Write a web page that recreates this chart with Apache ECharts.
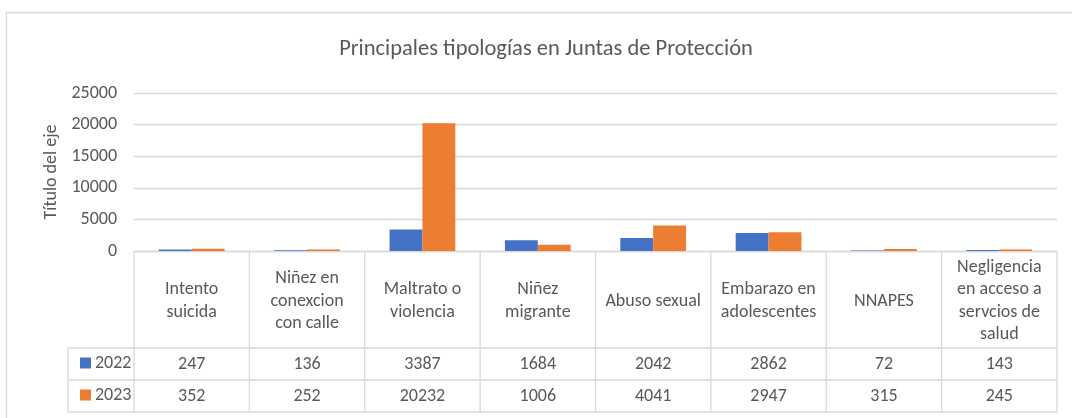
<!DOCTYPE html>
<html>
<head>
<meta charset="utf-8">
<script src="https://cdn.jsdelivr.net/npm/echarts@6/dist/echarts.min.js"></script>
<style>
  html, body { margin: 0; padding: 0; background: #fff; }
  #chart { width: 1072px; height: 418px; }
</style>
</head>
<body>
<div id="chart"></div>
<script>
const categories = [
  'Intento\nsuicida',
  'Niñez en\nconexcion\ncon calle',
  'Maltrato o\nviolencia',
  'Niñez\nmigrante',
  'Abuso sexual',
  'Embarazo en\nadolescentes',
  'NNAPES',
  'Negligencia\nen acceso a\nservcios de\nsalud'
];
const seriesNames = ['2022', '2023'];
const values2022 = [247, 136, 3387, 1684, 2042, 2862, 72, 143];
const values2023 = [352, 252, 20232, 1006, 4041, 2947, 315, 245];
const yMax = 25000;
const yStep = 5000;

const font = 'Carlito, Lato, sans-serif';
const textColor = '#595959';
const lineColor = '#D9D9D9';

// layout of plot + data table
const gridLeft = 134, gridRight = 1057, axisY = 251;
const rowTops = [348, 380, 412];
const legendLeft = 68;
const colW = (gridRight - gridLeft) / categories.length;

const lines = [];
const addLine = (x1, y1, x2, y2) => lines.push({
  type: 'line', silent: true,
  shape: { x1, y1, x2, y2 },
  style: { stroke: lineColor, lineWidth: 1.3 }
});
rowTops.forEach(y => addLine(legendLeft, y, gridRight, y));
for (let i = 0; i <= categories.length; i++) {
  const x = gridLeft + i * colW;
  addLine(x, axisY, x, rowTops[2]);
}
addLine(legendLeft, rowTops[0], legendLeft, rowTops[2]);

const labelBase = { fontFamily: font, fontSize: 18, color: textColor, interval: 0, verticalAlign: 'middle', align: 'center' };

const chart = echarts.init(document.getElementById('chart'));
chart.setOption({
  animation: false,
  textStyle: { fontFamily: font },
  title: {
    text: 'Principales tipologías en Juntas de Protección',
    left: 541, top: 33, textAlign: 'center',
    textStyle: { fontFamily: font, fontSize: 22.5, fontWeight: 'normal', color: textColor }
  },
  legend: {
    data: seriesNames,
    orient: 'vertical',
    left: 75, top: 349,
    icon: 'rect', itemWidth: 11, itemHeight: 11, itemGap: 14,
    selectedMode: false,
    textStyle: { fontFamily: font, fontSize: 18, lineHeight: 18, color: textColor, padding: [0, 0, 0, -1] }
  },
  grid: { left: gridLeft, right: 1072 - gridRight, top: 93, bottom: 418 - axisY, containLabel: false },
  xAxis: [
    {
      type: 'category', data: categories, position: 'bottom',
      axisLine: { lineStyle: { color: lineColor, width: 1.3 } },
      axisTick: { show: false },
      axisLabel: Object.assign({}, labelBase, { margin: 50, lineHeight: 22.5 })
    },
    {
      type: 'category', data: categories, position: 'bottom',
      axisLine: { show: false }, axisTick: { show: false },
      axisLabel: Object.assign({}, labelBase, { margin: 113, formatter: (v, i) => String(values2022[i]) })
    },
    {
      type: 'category', data: categories, position: 'bottom',
      axisLine: { show: false }, axisTick: { show: false },
      axisLabel: Object.assign({}, labelBase, { margin: 145, formatter: (v, i) => String(values2023[i]) })
    }
  ],
  yAxis: {
    type: 'value', min: 0, max: yMax, interval: yStep,
    name: 'Título del eje', nameLocation: 'middle', nameRotate: 90, nameGap: 72,
    nameTextStyle: { fontFamily: font, fontSize: 18, color: textColor },
    axisLine: { show: false }, axisTick: { show: false },
    axisLabel: { fontFamily: font, fontSize: 18, color: textColor, margin: 17, formatter: v => String(v) },
    splitLine: { lineStyle: { color: lineColor, width: 1.3 } }
  },
  series: [
    {
      name: seriesNames[0], type: 'bar', data: values2022,
      itemStyle: { color: '#4472C4' },
      barGap: '0%', barCategoryGap: '43%'
    },
    {
      name: seriesNames[1], type: 'bar', data: values2023,
      itemStyle: { color: '#ED7D31' },
      barGap: '0%', barCategoryGap: '43%'
    }
  ],
  graphic: [
    {
      type: 'rect', silent: true,
      shape: { x: 6.5, y: 12.5, width: 1200, height: 600 },
      style: { fill: 'none', stroke: lineColor, lineWidth: 1.3 }
    }
  ].concat(lines)
});
</script>
</body>
</html>
